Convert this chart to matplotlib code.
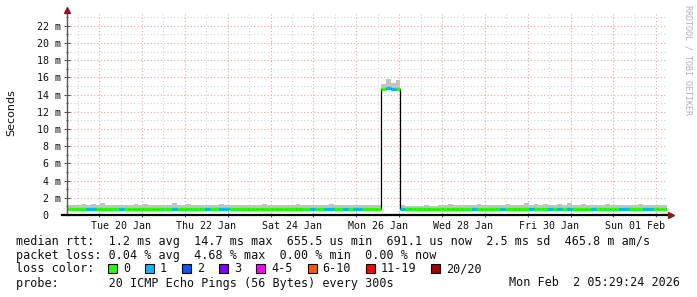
import numpy as np
import matplotlib
matplotlib.use("Agg")
from matplotlib import pyplot as plt
from matplotlib.patches import Rectangle

# median rtt (ms), one value every 1/9 day over 14 days
median_ms = [
    0.74, 0.72, 0.73, 0.74, 0.71, 0.72, 0.74, 0.73, 0.72,
    0.73, 0.74, 0.70, 0.72, 0.73, 0.74, 0.72, 0.71, 0.74,
    0.73, 0.72, 0.74, 0.73, 0.70, 0.72, 0.73, 0.74, 0.72,
    0.71, 0.73, 0.74, 0.72, 0.73, 0.72, 0.74, 0.73, 0.71,
    0.72, 0.74, 0.73, 0.72, 0.74, 0.73, 0.72, 0.70, 0.73,
    0.74, 0.72, 0.73, 0.71, 0.73, 0.74, 0.72, 0.73, 0.74,
    0.72, 0.73, 0.71, 0.74, 0.72, 0.73, 0.74, 0.72, 0.73,
    0.74, 0.72, 0.73, 14.68, 14.72, 14.70, 14.70, 0.74, 0.66,
    0.67, 0.66, 0.68, 0.67, 0.66, 0.68, 0.72, 0.73, 0.74,
    0.72, 0.73, 0.74, 0.71, 0.73, 0.72, 0.74, 0.73, 0.72,
    0.73, 0.74, 0.72, 0.73, 0.74, 0.72, 0.71, 0.73, 0.74,
    0.72, 0.73, 0.74, 0.73, 0.72, 0.74, 0.73, 0.72, 0.74,
    0.73, 0.72, 0.74, 0.71, 0.73, 0.74, 0.72, 0.73, 0.74,
    0.72, 0.74, 0.73, 0.72, 0.74, 0.73, 0.72, 0.74, 0.73,
]

# top of the grey "smoke" band (ms)
smoke_top_ms = [
    1.15, 1.20, 1.12, 1.25, 1.18, 1.30, 1.15, 1.45, 1.20,
    1.22, 1.15, 1.18, 1.12, 1.20, 1.25, 1.16, 1.28, 1.14,
    1.20, 1.15, 1.22, 1.18, 1.35, 1.20, 1.15, 1.25, 1.18,
    1.16, 1.22, 1.15, 1.20, 1.18, 1.25, 1.15, 1.22, 1.20,
    1.18, 1.15, 1.22, 1.20, 1.16, 1.25, 1.18, 1.15, 1.20,
    1.22, 1.18, 1.15, 1.25, 1.20, 1.16, 1.22, 1.18, 1.15,
    1.20, 1.25, 1.15, 1.18, 1.22, 1.15, 1.20, 1.18, 1.16,
    1.20, 1.15, 1.18, 15.20, 15.80, 15.30, 15.70, 1.20, 1.05,
    1.08, 1.10, 1.05, 1.12, 1.08, 1.10, 1.20, 1.18, 1.25,
    1.15, 1.22, 1.18, 1.20, 1.15, 1.30, 1.18, 1.22, 1.15,
    1.20, 1.18, 1.25, 1.15, 1.22, 1.20, 1.40, 1.18, 1.25,
    1.20, 1.30, 1.22, 1.18, 1.25, 1.20, 1.35, 1.22, 1.20,
    1.25, 1.18, 1.22, 1.20, 1.16, 1.25, 1.20, 1.18, 1.22,
    1.20, 1.15, 1.22, 1.25, 1.18, 1.20, 1.16, 1.22, 1.18,
]

# indices of steps with 1 lost ping (all others: 0 lost)
loss_one_idx = [4, 5, 11, 22, 29, 32, 33, 51, 54, 55, 58, 60, 61, 67, 68, 70,
                85, 91, 97, 101, 103, 105, 110, 116, 117, 121, 122]

day_labels = ["Tue 20 Jan", "Thu 22 Jan", "Sat 24 Jan", "Mon 26 Jan",
              "Wed 28 Jan", "Fri 30 Jan", "Sun 01 Feb"]
y_ticks = [0, 2, 4, 6, 8, 10, 12, 14, 16, 18, 20, 22]

loss_labels = ["0", "1", "2", "3", "4-5", "6-10", "11-19", "20/20"]
loss_colors = ["#26ff00", "#00b8ff", "#0059ff", "#7e00ff",
               "#ff00ff", "#ff5500", "#ff0000", "#a10000"]

legend_lines = [
    "median rtt:  1.2 ms avg  14.7 ms max  655.5 us min  691.1 us now  2.5 ms sd  465.8 m am/s",
    "packet loss: 0.04 % avg  4.68 % max  0.00 % min  0.00 % now",
    "loss color:",
    "probe:       20 ICMP Echo Pings (56 Bytes) every 300s",
]
timestamp = "Mon Feb  2 05:29:24 2026"

W, H = 697, 297
fig = plt.figure(figsize=(W / 100, H / 100), dpi=100)
fig.patch.set_facecolor("white")
ax = fig.add_axes([67 / W, (H - 215) / H, 600 / W, 202 / H])

n = len(median_ms)
edges = np.linspace(0, 14, n + 1)
median = np.array(median_ms)
loss = np.zeros(n, dtype=int)
loss[loss_one_idx] = 1
seg_colors = [loss_colors[v] for v in loss]

ax.stairs(smoke_top_ms, edges, baseline=median, fill=True,
          color="#c4c4c4", zorder=2, linewidth=0)
ax.stairs(median, edges, baseline=None, color="black", linewidth=0.9, zorder=3)
ax.hlines(median, edges[:-1], edges[1:], colors=seg_colors, linewidth=2.4, zorder=4)

ax.set_xlim(0, 14)
ax.set_ylim(0, 23.5)

# grid: red major, grey minor
ax.set_yticks(y_ticks)
ax.set_yticklabels(["0  "] + [f"{v} m" for v in y_ticks[1:]])
ax.set_yticks(np.arange(1, 24, 2), minor=True)
ax.set_xticks(np.arange(0.75, 14, 1.0))
ax.set_xticklabels([])
minor_x = np.arange(0.25, 14, 1.0)
ax.set_xticks(minor_x, minor=True)
ax.set_xticklabels([day_labels[i // 2] if i % 2 == 1 else "" for i in range(len(minor_x))],
                   minor=True)

ax.grid(which="major", color="#eaa6a6", linestyle=(0, (1, 2)), linewidth=0.8)
ax.grid(which="minor", color="#d4d4d4", linestyle=(0, (1, 2)), linewidth=0.8)
ax.set_axisbelow(True)

ax.tick_params(axis="both", which="both", direction="inout", length=4,
               width=0.8, color="#555555", labelsize=7.2, pad=2)
ax.tick_params(axis="y", which="minor", length=2)
ax.tick_params(axis="x", which="minor", length=0, pad=4)
ax.tick_params(axis="x", which="major", length=3)
for lab in ax.get_yticklabels() + ax.get_xticklabels(minor=True):
    lab.set_family("DejaVu Sans Mono")
    lab.set_color("#111111")

for s in ["top", "right", "left", "bottom"]:
    ax.spines[s].set_visible(False)

# axes with arrows
ax.plot([0, 0], [0, 1.012], transform=ax.transAxes, color="#555555",
        linewidth=1.0, clip_on=False, zorder=5)
ax.plot([-5 / 600, 1.003], [0, 0], transform=ax.transAxes, color="black",
        linewidth=1.6, clip_on=False, zorder=5)
ax.plot([1.007], [0], marker=">", markersize=4.5, color="#8b1a1a",
        transform=ax.transAxes, clip_on=False, zorder=6)
ax.plot([0], [1.016], marker="^", markersize=4.5, color="#8b1a1a",
        transform=ax.transAxes, clip_on=False, zorder=6)

fig.text(11 / W, 1 - 113 / H, "Seconds", rotation=90, ha="center", va="center",
         fontsize=8, family="DejaVu Sans", color="#111111")
fig.text(688 / W, 1 - 5 / H, "RRDTOOL / TOBI OETIKER", rotation=270, ha="center",
         va="top", fontsize=6, family="DejaVu Sans Mono", color="#b0b0b0")

# legend text
mono = dict(family="DejaVu Sans Mono", fontsize=8.5, color="#111111", va="center")
line_y = [241, 255, 268.5, 283]
for txt, py in zip(legend_lines, line_y):
    fig.text(16 / W, 1 - py / H, txt, ha="left", **mono)
fig.text(680 / W, 1 - 283 / H, timestamp, ha="right", **mono)

bx = 108.0
for lab, col in zip(loss_labels, loss_colors):
    fig.add_artist(Rectangle((bx / W, 1 - 273 / H), 9 / W, 9 / H, facecolor=col,
                             edgecolor="black", linewidth=0.8,
                             transform=fig.transFigure))
    fig.text((bx + 15) / W, 1 - 268.5 / H, lab, ha="left", **mono)
    bx += 30 + 7.09 * len(lab)

fig.savefig("out.png", dpi=100, facecolor="white")
